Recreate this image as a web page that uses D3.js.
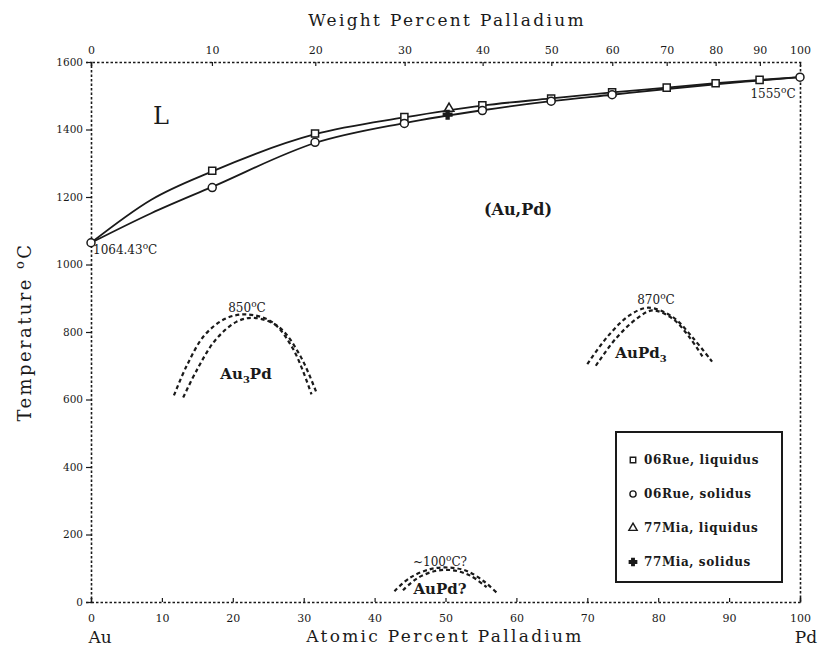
<!DOCTYPE html>
<html>
<head>
<meta charset="utf-8">
<script src="https://cdn.jsdelivr.net/npm/d3@7"></script>
<style>
  body { margin: 0; background: #fff; }
  text { font-family: "DejaVu Serif", "Liberation Serif", serif; fill: #1a1a1a; }
</style>
</head>
<body>
<svg></svg>
<script>
var svgWidth = 826;
var svgHeight = 651;

// atomic percent Pd ticks (bottom) and weight percent ticks (top)
var atTicks = [0, 10, 20, 30, 40, 50, 60, 70, 80, 90, 100];
var wtTicks = [0, 10, 20, 30, 40, 50, 60, 70, 80, 90, 100];
var tempTicks = [0, 200, 400, 600, 800, 1000, 1200, 1400, 1600];

// 06Rue data (atomic % Pd, deg C)
var rueLiqAt = [17.1, 31.6, 44.2, 55.2, 64.9, 73.5, 81.2, 88.1, 94.3];
var rueLiqT  = [1278, 1388, 1437, 1472, 1492, 1510, 1524, 1537, 1547];
var rueSolAt = [17.1, 31.6, 44.2, 55.2, 64.9, 73.5, 100];
var rueSolT  = [1228, 1362, 1418, 1456, 1484, 1503, 1555];
// 77Mia data
var miaLiqAt = [50.5];
var miaLiqT  = [1462];
var miaSolAt = [50.3];
var miaSolT  = [1444];

// liquidus / solidus lines
var liqLineAt = [0, 8.5, 17.1, 31.6, 44.2, 55.2, 64.9, 73.5, 81.2, 88.1, 94.3, 100];
var liqLineT  = [1064.43, 1192, 1276, 1386, 1436, 1471, 1492, 1510, 1524, 1537, 1547, 1555];
var solLineAt = [0, 8.5, 17.1, 31.6, 44.2, 55.2, 64.9, 73.5, 81.2, 88.1, 94.3, 100];
var solLineT  = [1064.43, 1152, 1230, 1360, 1419, 1457, 1484, 1503, 1520, 1534, 1545, 1555];

// ordering domes (dashed), two boundaries each
var au3pdA_At = [11.7, 13.5, 16, 19, 22, 25.5, 28.5, 31.1];
var au3pdA_T  = [612, 700, 790, 840, 852, 830, 750, 615];
var au3pdB_At = [13.0, 15, 17.5, 20.5, 23, 26.5, 29.5, 31.8];
var au3pdB_T  = [606, 690, 775, 830, 842, 815, 730, 620];
var aupd3A_At = [70.0, 73, 76, 78.6, 82, 85, 87.6];
var aupd3A_T  = [705, 790, 850, 872, 845, 780, 712];
var aupd3B_At = [71.2, 74, 77, 79.2, 82, 84.5, 86.4];
var aupd3B_T  = [700, 780, 840, 864, 840, 782, 722];
var aupdA_At = [42.8, 45, 48, 50.5, 53, 55.5, 57.2];
var aupdA_T  = [32, 72, 98, 102, 92, 60, 28];
var aupdB_At = [44.0, 46, 48.6, 51, 53.5, 55.8];
var aupdB_T  = [35, 70, 92, 94, 78, 44];

var legendLabels = ["06Rue, liquidus", "06Rue, solidus", "77Mia, liquidus", "77Mia, solidus"];

function pts(a, t) { return a.map(function(d, i) { return [d, t[i]]; }); }

// weight % Pd -> atomic % Pd
var mAu = 196.97, mPd = 106.42;
function wtToAt(w) {
  var nPd = w / mPd, nAu = (100 - w) / mAu;
  return 100 * nPd / (nPd + nAu);
}

var svg = d3.select("svg")
  .attr("width", svgWidth)
  .attr("height", svgHeight);

var x = d3.scaleLinear().domain([0, 100]).range([91, 800]);
var y = d3.scaleLinear().domain([0, 1600]).range([602, 62]);

var ink = "#1a1a1a";

// axes
var gBottom = svg.append("g").attr("transform", "translate(0," + y(0) + ")")
  .call(d3.axisBottom(x).tickValues(atTicks).tickSize(-4).tickPadding(12));
var gTop = svg.append("g").attr("transform", "translate(0," + y(1600) + ")")
  .call(d3.axisTop(x).tickValues(wtTicks.map(wtToAt)).tickSize(-4).tickPadding(8)
    .tickFormat(function(d, i) { return wtTicks[i]; }));
var gLeft = svg.append("g").attr("transform", "translate(" + x(0) + ",0)")
  .call(d3.axisLeft(y).tickValues(tempTicks).tickSize(5).tickPadding(3).tickFormat(d3.format("d")));
var gRight = svg.append("g").attr("transform", "translate(" + x(100) + ",0)")
  .call(d3.axisRight(y).tickValues([]).tickSize(0));

[gBottom, gTop, gLeft, gRight].forEach(function(g) {
  g.select(".domain").attr("stroke", ink).attr("stroke-width", 1.6).attr("stroke-dasharray", "2.5,2");
  g.selectAll(".tick line").attr("stroke", ink).attr("stroke-width", 1.2);
  g.selectAll(".tick text").style("font-size", "11px").attr("fill", ink);
});
gLeft.selectAll(".tick text").style("font-size", "10.5px");

// axis titles
svg.append("text").attr("x", 447).attr("y", 26).attr("text-anchor", "middle")
  .style("font-size", "17px").style("letter-spacing", "2.3px").text("Weight Percent Palladium");
svg.append("text").attr("x", 445).attr("y", 642).attr("text-anchor", "middle")
  .style("font-size", "17px").style("letter-spacing", "2.3px").text("Atomic Percent Palladium");
svg.append("text").attr("x", 100).attr("y", 643).attr("text-anchor", "middle")
  .style("font-size", "17px").text("Au");
svg.append("text").attr("x", 806).attr("y", 643).attr("text-anchor", "middle")
  .style("font-size", "17px").text("Pd");

var yl = svg.append("text").attr("transform", "translate(31,332) rotate(-90)")
  .attr("text-anchor", "middle").style("font-size", "18px").style("letter-spacing", "2.4px");
yl.append("tspan").text("Temperature ");
yl.append("tspan").attr("dy", -7).style("font-size", "13px").text("o");
yl.append("tspan").attr("dy", 7).text("C");

// curves
var line = d3.line().x(function(d) { return x(d[0]); }).y(function(d) { return y(d[1]); })
  .curve(d3.curveMonotoneX);
var domeLine = d3.line().x(function(d) { return x(d[0]); }).y(function(d) { return y(d[1]); })
  .curve(d3.curveCatmullRom.alpha(0.5));

svg.append("path").datum(pts(liqLineAt, liqLineT)).attr("d", line)
  .attr("fill", "none").attr("stroke", ink).attr("stroke-width", 1.8);
svg.append("path").datum(pts(solLineAt, solLineT)).attr("d", line)
  .attr("fill", "none").attr("stroke", ink).attr("stroke-width", 1.8);

var domes = [
  pts(au3pdA_At, au3pdA_T), pts(au3pdB_At, au3pdB_T),
  pts(aupd3A_At, aupd3A_T), pts(aupd3B_At, aupd3B_T),
  pts(aupdA_At, aupdA_T), pts(aupdB_At, aupdB_T)
];
svg.selectAll(".dome").data(domes).enter().append("path")
  .attr("class", "dome")
  .attr("d", domeLine)
  .attr("fill", "none").attr("stroke", ink).attr("stroke-width", 2.2)
  .attr("stroke-dasharray", "4,3");

// markers
var sq = d3.symbol().type(d3.symbolSquare).size(50);
var ci = d3.symbol().type(d3.symbolCircle).size(50);
var tr = d3.symbol().type(d3.symbolTriangle).size(40);
var pl = d3.symbol().type(d3.symbolCross).size(40);

function drawMarks(at, t, sym, filled) {
  svg.append("g").selectAll("path").data(pts(at, t)).enter().append("path")
    .attr("transform", function(d) { return "translate(" + x(d[0]) + "," + y(d[1]) + ")"; })
    .attr("d", sym)
    .attr("fill", filled ? ink : "#fff").attr("stroke", ink).attr("stroke-width", 1.5);
}
drawMarks(rueLiqAt, rueLiqT, sq, false);
drawMarks(rueSolAt, rueSolT, ci, false);
drawMarks(miaLiqAt, miaLiqT, tr, false);
drawMarks(miaSolAt, miaSolT, pl, true);
// Au melting point marker
drawMarks([0], [1064.43], ci, false);

// annotations
function label(xv, yv, str, size) {
  return svg.append("text").attr("x", xv).attr("y", yv).attr("text-anchor", "middle")
    .style("font-size", size + "px").text(str);
}
label(161, 124, "L", 24);
label(518, 215, "(Au,Pd)", 16).style("font-weight", "bold");

function degLabel(xv, yv, num, tail, anchor) {
  var t = svg.append("text").attr("x", xv).attr("y", yv).attr("text-anchor", anchor || "middle")
    .style("font-size", "12px");
  t.append("tspan").text(num);
  t.append("tspan").attr("dy", -5).style("font-size", "9px").text("o");
  t.append("tspan").attr("dy", 5).text("C" + (tail || ""));
}
degLabel(93, 254, "1064.43", "", "start");
degLabel(773, 98, "1555", "");
degLabel(247, 312, "850", "");
degLabel(656, 304, "870", "");
degLabel(440, 566, "~100", "?");

function subLabel(xv, yv, a, sub, b) {
  var t = svg.append("text").attr("x", xv).attr("y", yv).attr("text-anchor", "middle")
    .style("font-size", "15px").style("font-weight", "bold");
  t.append("tspan").text(a);
  t.append("tspan").attr("dy", 4).style("font-size", "10px").text(sub);
  t.append("tspan").attr("dy", -4).text(b);
}
subLabel(246, 379, "Au", "3", "Pd");
subLabel(641, 358, "AuPd", "3", "");
label(440, 594, "AuPd?", 15).style("font-weight", "bold");

// legend
var lg = svg.append("g");
lg.append("rect").attr("x", 616).attr("y", 432).attr("width", 166).attr("height", 150)
  .attr("fill", "#fff").attr("stroke", ink).attr("stroke-width", 2);
var legSyms = [d3.symbolSquare, d3.symbolCircle, d3.symbolTriangle, d3.symbolCross];
legendLabels.forEach(function(s, i) {
  var yy = 460 + i * 34;
  lg.append("path").attr("transform", "translate(633," + yy + ")")
    .attr("d", d3.symbol().type(legSyms[i]).size(30))
    .attr("fill", i === 3 ? ink : "#fff").attr("stroke", ink).attr("stroke-width", 1.4);
  lg.append("text").attr("x", 644).attr("y", yy + 4).style("font-size", "12px")
    .style("letter-spacing", "0.6px").style("font-weight", "bold").text(s);
});
</script>
</body>
</html>
